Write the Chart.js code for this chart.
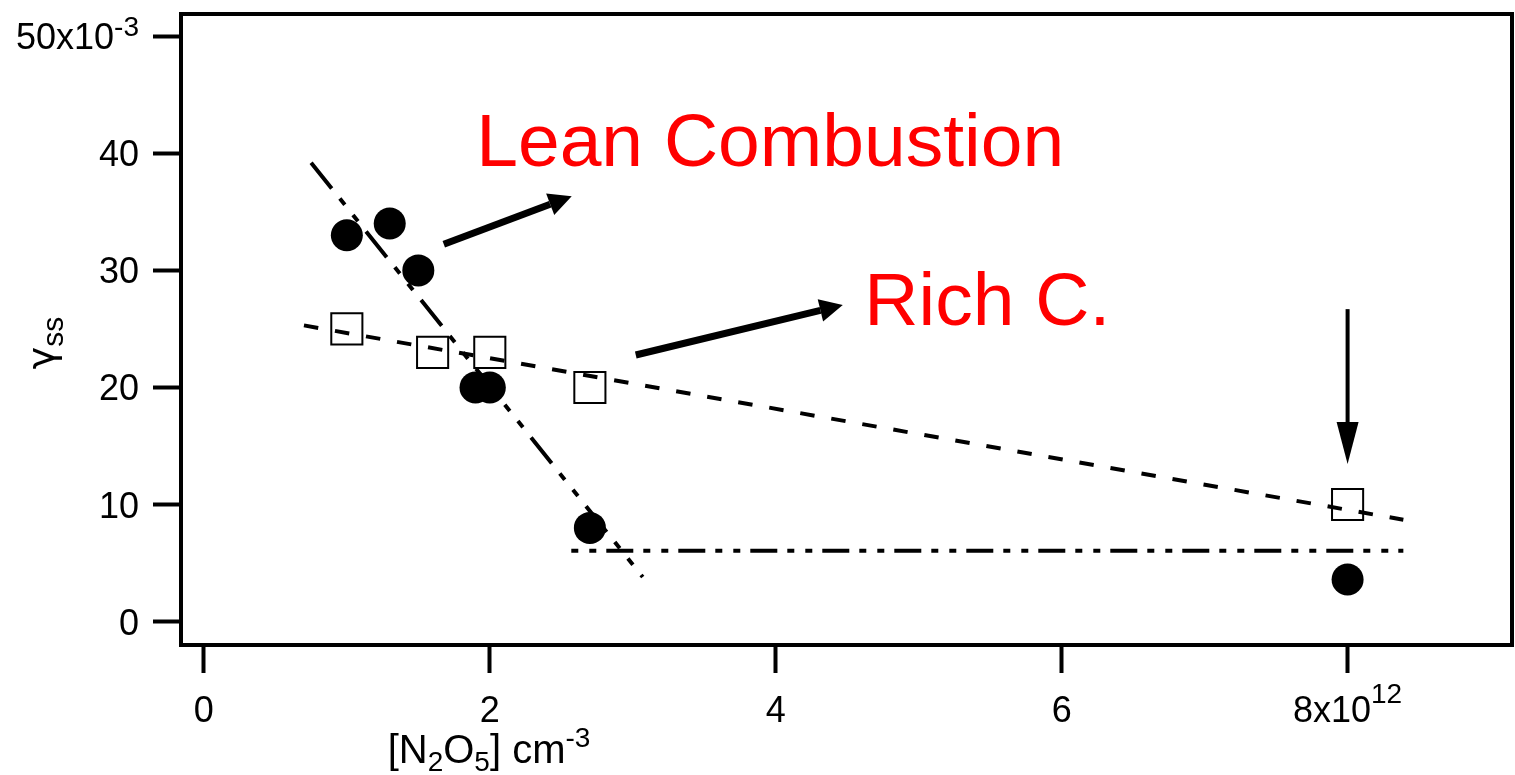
<!DOCTYPE html>
<html>
<head>
<meta charset="utf-8">
<script src="https://cdn.jsdelivr.net/npm/chart.js@4.4.0/dist/chart.umd.min.js"></script>
<style>
  html, body { margin: 0; padding: 0; background: #fff; }
</style>
</head>
<body>
<canvas id="chart" width="1515" height="775"></canvas>
<script>
// [N2O5] in 1e12 cm-3, gamma in 1e-3
var xTicks = [0, 2, 4, 6, 8];
var yTicks = [0, 10, 20, 30, 40, 50];

var leanX = [1.0, 1.3, 1.5, 1.9, 2.0, 2.7, 8.0];
var leanY = [33, 34, 30, 20, 20, 8, 3.6];
var richX = [1.0, 1.6, 2.0, 2.7, 8.0];
var richY = [25, 23, 23, 20, 10];

// fit lines (end points)
var leanFitX = [0.75, 3.07];
var leanFitY = [39.2, 3.8];
var richFitX = [0.70, 8.39];
var richFitY = [25.3, 8.7];
var flatFitX = [2.57, 8.39];
var flatFitY = [6.05, 6.05];

// annotations, in data units
var arrows = [
  { x1: 1.678, y1: 32.24, x2: 2.573, y2: 36.34, w: 7, len: 23, half: 11.5 },
  { x1: 3.021, y1: 22.77, x2: 4.469, y2: 27.04, w: 7, len: 23, half: 11.5 },
  { x1: 8.0, y1: 26.69, x2: 8.0, y2: 13.46, w: 4, len: 42, half: 11 }
];
var notes = [
  { text: 'Lean Combustion', x: 1.905, y: 38.9 },
  { text: 'Rich C.', x: 4.62, y: 25.33 }
];

function pts(xs, ys) {
  return xs.map(function (x, i) { return { x: x, y: ys[i] }; });
}

var FONT = '"Liberation Sans", Arial, sans-serif';

function drawArrow(ctx, x1, y1, x2, y2, w, len, half) {
  var a = Math.atan2(y2 - y1, x2 - x1);
  var bx = x2 - len * Math.cos(a), by = y2 - len * Math.sin(a);
  ctx.lineWidth = w;
  ctx.beginPath();
  ctx.moveTo(x1, y1);
  ctx.lineTo(bx, by);
  ctx.stroke();
  ctx.beginPath();
  ctx.moveTo(x2, y2);
  ctx.lineTo(bx + half * Math.sin(a), by - half * Math.cos(a));
  ctx.lineTo(bx - half * Math.sin(a), by + half * Math.cos(a));
  ctx.closePath();
  ctx.fill();
}

var extras = {
  id: 'extras',
  afterDatasetsDraw: function (chart) {
    var ctx = chart.ctx, xs = chart.scales.x, ys = chart.scales.y;
    ctx.save();
    ctx.strokeStyle = '#000';
    ctx.fillStyle = '#000';
    ctx.lineCap = 'butt';
    arrows.forEach(function (a) {
      drawArrow(ctx, xs.getPixelForValue(a.x1), ys.getPixelForValue(a.y1),
        xs.getPixelForValue(a.x2), ys.getPixelForValue(a.y2), a.w, a.len, a.half);
    });
    ctx.fillStyle = '#ff0000';
    ctx.font = '75px ' + FONT;
    ctx.textAlign = 'left';
    ctx.textBaseline = 'alphabetic';
    notes.forEach(function (n) {
      ctx.fillText(n.text, xs.getPixelForValue(n.x), ys.getPixelForValue(n.y));
    });
    ctx.restore();
  },
  afterDraw: function (chart) {
    var ctx = chart.ctx, xs = chart.scales.x, ys = chart.scales.y;
    var ca = chart.chartArea;
    ctx.save();
    ctx.strokeStyle = '#000';
    ctx.lineWidth = 4;
    ctx.strokeRect(ca.left, ca.top, ca.right - ca.left, ca.bottom - ca.top);

    ctx.fillStyle = '#000';
    ctx.textBaseline = 'alphabetic';
    // y tick labels
    yTicks.forEach(function (v) {
      var py = ys.getPixelForValue(v) + 13;
      ctx.textAlign = 'right';
      if (v === 50) {
        ctx.font = '28px ' + FONT;
        var sw = ctx.measureText('-3').width;
        ctx.fillText('-3', 139, py - 13);
        ctx.font = '36px ' + FONT;
        ctx.fillText('50x10', 139 - sw, py);
      } else {
        ctx.font = '36px ' + FONT;
        ctx.fillText(String(v), 139, py);
      }
    });
    // x tick labels
    xTicks.forEach(function (v) {
      var px = xs.getPixelForValue(v);
      if (v === 8) {
        ctx.font = '36px ' + FONT;
        var mw = ctx.measureText('8x10').width;
        ctx.font = '28px ' + FONT;
        var sw = ctx.measureText('12').width;
        var x0 = px - (mw + sw) / 2;
        ctx.textAlign = 'left';
        ctx.fillText('12', x0 + mw, 722 - 19);
        ctx.font = '36px ' + FONT;
        ctx.fillText('8x10', x0, 722);
      } else {
        ctx.textAlign = 'center';
        ctx.font = '36px ' + FONT;
        ctx.fillText(String(v), px, 722);
      }
    });

    // x title: [N2O5] cm-3
    var parts = [
      { t: '[N', f: 40, dy: 0 },
      { t: '2', f: 28, dy: 8 },
      { t: 'O', f: 40, dy: 0 },
      { t: '5', f: 28, dy: 8 },
      { t: '] cm', f: 40, dy: 0 },
      { t: '-3', f: 28, dy: -16 }
    ];
    var total = 0;
    parts.forEach(function (p) {
      ctx.font = p.f + 'px ' + FONT;
      p.w = ctx.measureText(p.t).width;
      total += p.w;
    });
    var cx = 489 - total / 2;
    ctx.textAlign = 'left';
    parts.forEach(function (p) {
      ctx.font = p.f + 'px ' + FONT;
      ctx.fillText(p.t, cx, 763 + p.dy);
      cx += p.w;
    });

    // y title: gamma_ss
    ctx.translate(54, 343);
    ctx.rotate(-Math.PI / 2);
    ctx.font = '38px "DejaVu Sans", sans-serif';
    var gw = ctx.measureText('\u03b3').width;
    ctx.font = '30px ' + FONT;
    var ssw = ctx.measureText('ss').width;
    var gx = -(gw + ssw) / 2;
    ctx.font = '38px "DejaVu Sans", sans-serif';
    ctx.fillText('\u03b3', gx, 0);
    ctx.font = '30px ' + FONT;
    ctx.fillText('ss', gx + gw, 9);
    ctx.restore();
  }
};

var lineStyle = {
  showLine: true,
  pointRadius: 0,
  borderColor: '#000',
  borderWidth: 4,
  fill: false
};

var chart = new Chart(document.getElementById('chart').getContext('2d'), {
  type: 'scatter',
  data: {
    datasets: [
      {
        label: 'Lean',
        data: pts(leanX, leanY),
        pointRadius: 16,
        backgroundColor: '#000',
        borderWidth: 0,
        order: 2
      },
      {
        label: 'Rich',
        data: pts(richX, richY),
        pointStyle: 'rect',
        pointRadius: 22,
        backgroundColor: 'rgba(0,0,0,0)',
        borderColor: '#000',
        borderWidth: 2,
        order: 2
      },
      Object.assign({ label: 'Lean fit', data: pts(leanFitX, leanFitY),
        borderDash: [33, 13, 8, 13, 8, 13], order: 1 }, lineStyle),
      Object.assign({ label: 'Rich fit', data: pts(richFitX, richFitY),
        borderDash: [14.5, 17], order: 1 }, lineStyle),
      Object.assign({ label: 'Flat', data: pts(flatFitX, flatFitY),
        borderDash: [7, 10, 27, 10, 7, 11], borderDashOffset: 54, order: 1 }, lineStyle)
    ]
  },
  options: {
    responsive: false,
    animation: false,
    events: [],
    layout: { autoPadding: false, padding: { top: 14, right: 3, left: 0, bottom: 0 } },
    plugins: {
      legend: { display: false },
      tooltip: { enabled: false }
    },
    scales: {
      x: {
        type: 'linear',
        min: -0.16,
        max: 9.15,
        afterBuildTicks: function (s) { s.ticks = xTicks.map(function (v) { return { value: v }; }); },
        afterFit: function (s) { s.height = 130; },
        ticks: { display: false },
        border: { display: false },
        grid: { drawOnChartArea: false, drawTicks: true, tickLength: 28, tickWidth: 4, color: '#000' }
      },
      y: {
        type: 'linear',
        min: -2,
        max: 51.9,
        afterBuildTicks: function (s) { s.ticks = yTicks.map(function (v) { return { value: v }; }); },
        afterFit: function (s) { s.width = 181; },
        ticks: { display: false },
        border: { display: false },
        grid: { drawOnChartArea: false, drawTicks: true, tickLength: 28, tickWidth: 4, color: '#000' }
      }
    }
  },
  plugins: [extras]
});
</script>
</body>
</html>
